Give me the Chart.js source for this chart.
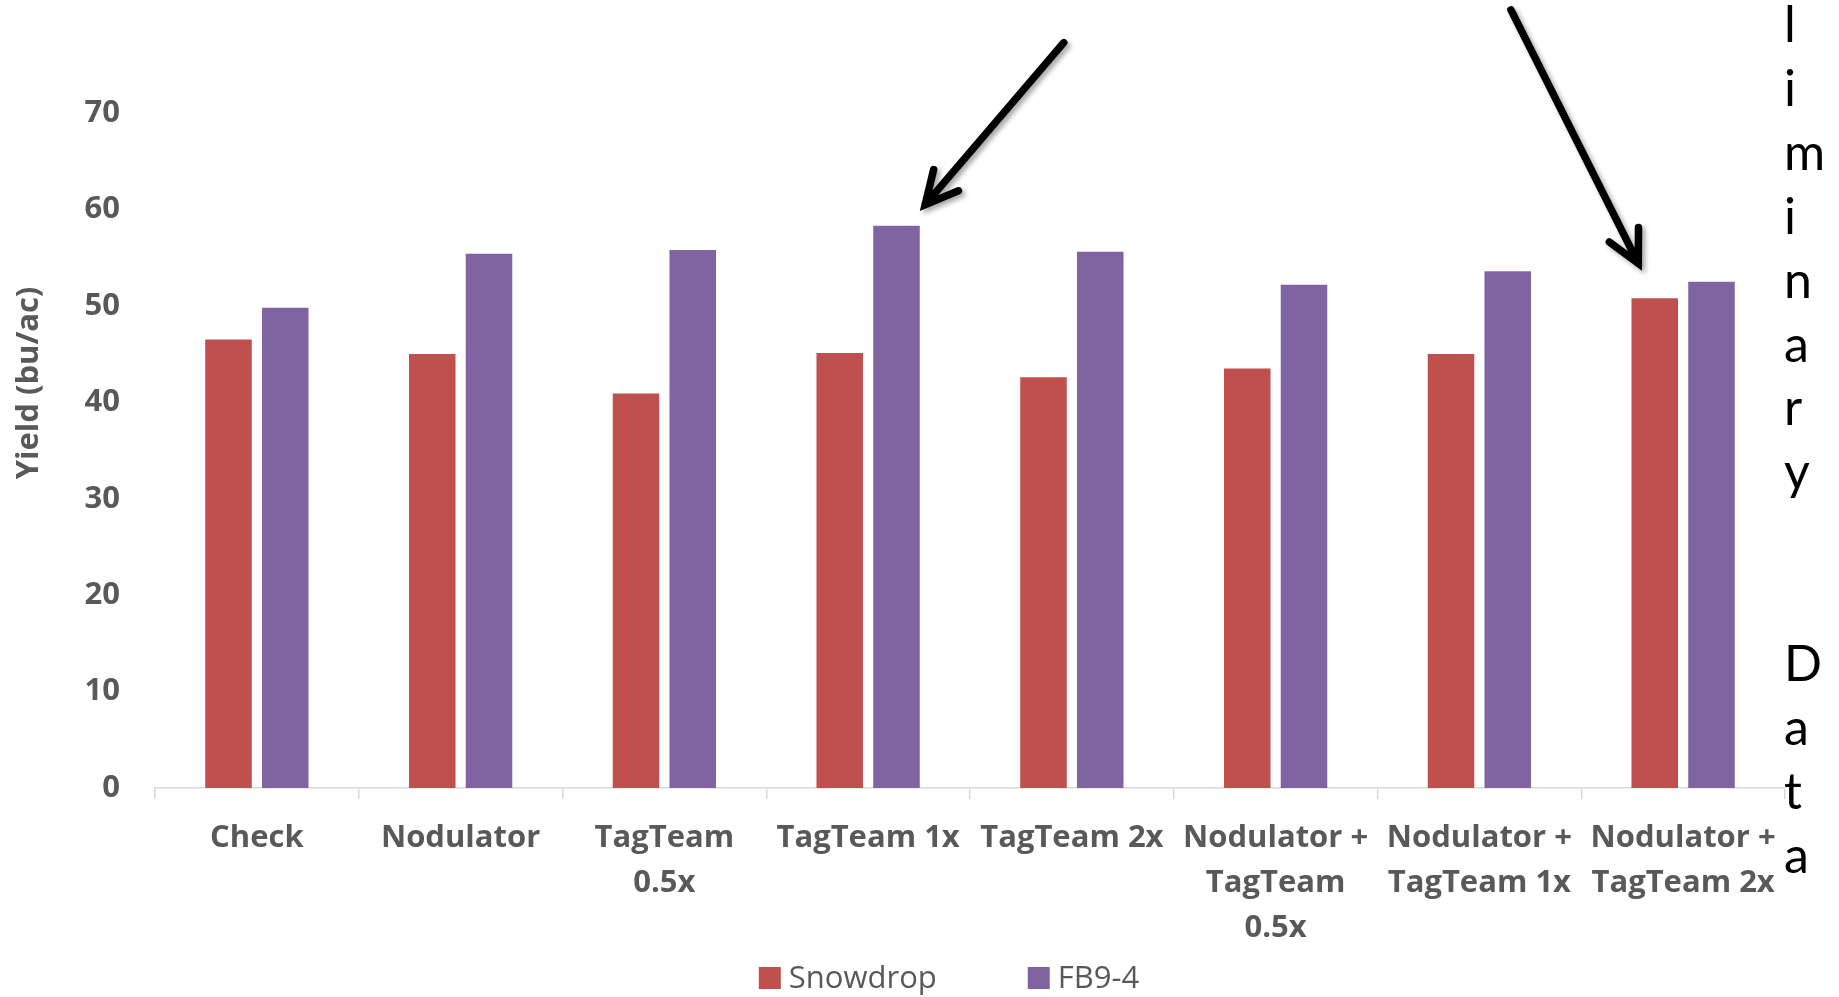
<!DOCTYPE html>
<html>
<head>
<meta charset="utf-8">
<title>Yield by treatment</title>
<script src="https://cdn.jsdelivr.net/npm/chart.js@4/dist/chart.umd.min.js"></script>
<style>
  html, body { margin: 0; padding: 0; background: #fff; }
  #wrap { width: 1839px; height: 997px; }
</style>
</head>
<body>
<div id="wrap"><canvas id="yieldChart" width="1839" height="997"></canvas></div>
<script>
const categories = [
  ['Check'], ['Nodulator'], ['TagTeam', '0.5x'], ['TagTeam 1x'], ['TagTeam 2x'],
  ['Nodulator +', 'TagTeam', '0.5x'], ['Nodulator +', 'TagTeam 1x'], ['Nodulator +', 'TagTeam 2x']
];
const snowdrop = [46.5, 45.0, 40.9, 45.1, 42.6, 43.5, 45.0, 50.8];
const fb94 = [49.8, 55.4, 55.8, 58.3, 55.6, 52.2, 53.6, 52.5];
const yTicks = [0, 10, 20, 30, 40, 50, 60, 70];
const seriesNames = ['Snowdrop', 'FB9-4'];
const axisTitle = 'Yield (bu/ac)';
const sideNote = 'Preliminary  Data';

const GREY = '#595959';
const SERIES_COLORS = ['#C0504D', '#8064A2'];
const LABEL_FONT = '"Open Sans"';

// callout arrows, in (category index, yield) units
const arrows = [
  { from: [3.96, 77.3], to: [3.28, 60.5] },
  { from: [6.155, 80.7], to: [6.78, 54.4] }
];

const yTitlePlugin = {
  id: 'yTitle',
  afterDraw(chart) {
    const ctx = chart.ctx;
    ctx.save();
    ctx.translate(29, 383);
    ctx.rotate(-Math.PI / 2);
    ctx.font = 'bold 31px ' + LABEL_FONT;
    ctx.fillStyle = GREY;
    ctx.textAlign = 'center';
    ctx.textBaseline = 'middle';
    ctx.fillText(axisTitle, 0, 0);
    ctx.restore();
  }
};

const arrowPlugin = {
  id: 'arrows',
  afterDraw(chart) {
    const { ctx, scales: { x, y } } = chart;
    const px = p => [x.getPixelForValue(p[0]), y.getPixelForValue(p[1])];
    ctx.save();
    ctx.strokeStyle = '#000';
    ctx.lineWidth = 7.5;
    ctx.lineCap = 'round';
    ctx.lineJoin = 'miter';
    ctx.shadowColor = 'rgba(0,0,0,0.35)';
    ctx.shadowBlur = 5;
    ctx.shadowOffsetX = 3;
    ctx.shadowOffsetY = 3;
    arrows.forEach(a => {
      const [x0, y0] = px(a.from);
      const [x1, y1] = px(a.to);
      const ang = Math.atan2(y0 - y1, x0 - x1);
      const len = 36, spread = 0.47;
      ctx.beginPath();
      ctx.moveTo(x0, y0);
      ctx.lineTo(x1, y1);
      ctx.moveTo(x1 + len * Math.cos(ang - spread), y1 + len * Math.sin(ang - spread));
      ctx.lineTo(x1, y1);
      ctx.lineTo(x1 + len * Math.cos(ang + spread), y1 + len * Math.sin(ang + spread));
      ctx.stroke();
    });
    ctx.restore();
  }
};

// vertical note down the right edge, one letter per line
const sideNotePlugin = {
  id: 'sideNote',
  afterDraw(chart) {
    const ctx = chart.ctx;
    ctx.save();
    ctx.font = '50px Lato';
    ctx.fillStyle = '#000';
    ctx.textAlign = 'left';
    ctx.textBaseline = 'alphabetic';
    [...sideNote].forEach((ch, i) => {
      ctx.fillText(ch, 1784, 42 + (i - 3) * 63.9);
    });
    ctx.restore();
  }
};

const legendPlugin = {
  id: 'bottomLegend',
  afterDraw(chart) {
    const ctx = chart.ctx;
    const box = 22, gapText = 8, gapItem = 91, cy = 978;
    ctx.save();
    ctx.font = '31px ' + LABEL_FONT;
    ctx.textBaseline = 'middle';
    const items = chart.data.datasets.map(d => ({ label: d.label, color: d.backgroundColor, w: ctx.measureText(d.label).width }));
    const total = items.reduce((s, it) => s + box + gapText + it.w, 0) + gapItem * (items.length - 1);
    let cx = 949 - total / 2;
    items.forEach(it => {
      ctx.fillStyle = it.color;
      ctx.fillRect(cx, cy - box / 2, box, box);
      ctx.fillStyle = GREY;
      ctx.fillText(it.label, cx + box + gapText, cy + 1);
      cx += box + gapText + it.w + gapItem;
    });
    ctx.restore();
  }
};

new Chart(document.getElementById('yieldChart'), {
  type: 'bar',
  data: {
    labels: categories,
    datasets: [
      { label: seriesNames[0], data: snowdrop, backgroundColor: SERIES_COLORS[0] },
      { label: seriesNames[1], data: fb94, backgroundColor: SERIES_COLORS[1] }
    ]
  },
  options: {
    responsive: false,
    animation: false,
    devicePixelRatio: 1,
    categoryPercentage: 0.557,
    barPercentage: 0.82,
    layout: { padding: { top: 113, right: 54, left: 0, bottom: 0 } },
    plugins: {
      legend: { display: false },
      tooltip: { enabled: false }
    },
    scales: {
      x: {
        afterFit: s => { s.height = 209; },
        grid: { offset: true, drawOnChartArea: false, tickLength: 11, color: '#d9d9d9', lineWidth: 1.5 },
        border: { color: '#d9d9d9', width: 1.5 },
        ticks: {
          padding: 17, color: GREY, maxRotation: 0, autoSkip: false,
          font: { family: LABEL_FONT, size: 31, weight: 'bold', lineHeight: 1.45 }
        }
      },
      y: {
        min: 0, max: 70,
        afterFit: s => { s.width = 155; },
        afterBuildTicks: s => { s.ticks = yTicks.map(v => ({ value: v })); },
        grid: { display: false, drawTicks: false },
        border: { display: false },
        ticks: { padding: 35, color: GREY, font: { family: LABEL_FONT, size: 31, weight: 'bold' } }
      }
    }
  },
  plugins: [yTitlePlugin, arrowPlugin, sideNotePlugin, legendPlugin]
});
</script>
</body>
</html>
